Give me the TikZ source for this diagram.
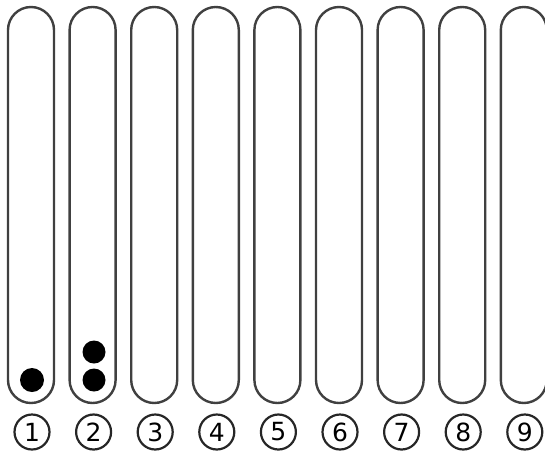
\documentclass[tikz,border=0pt]{standalone}
\usepackage{fontspec}
\setsansfont{DejaVu Sans}
\begin{document}
\begin{tikzpicture}[x=1pt,y=-1pt,
  tube/.style={draw=black!75, line width=2.4pt, rounded corners=23pt},
  ball/.style={fill=black},
  numlabel/.style={circle, draw=black!85, line width=2.2pt, minimum size=35pt,
    inner sep=0pt, font=\sffamily\fontsize{25}{25}\selectfont}]
  \useasboundingbox (0,0) rectangle (545,453);
  \clip (0,0) rectangle (545,453);
  % ---- tubes and their numbers ----
  \foreach \i in {1,...,9} {
    \draw[tube] ({8+(\i-1)*61.6},7) rectangle ++(46,396);
    \node[numlabel] (n\i) at ({32+(\i-1)*61.6},432) {\i};
  }
  % ---- balls ----
  \fill[ball] (32,380) circle (12pt);
  \fill[ball] (94,380) circle (11.5pt);
  \fill[ball] (94,352) circle (11.5pt);
\end{tikzpicture}
\end{document}
